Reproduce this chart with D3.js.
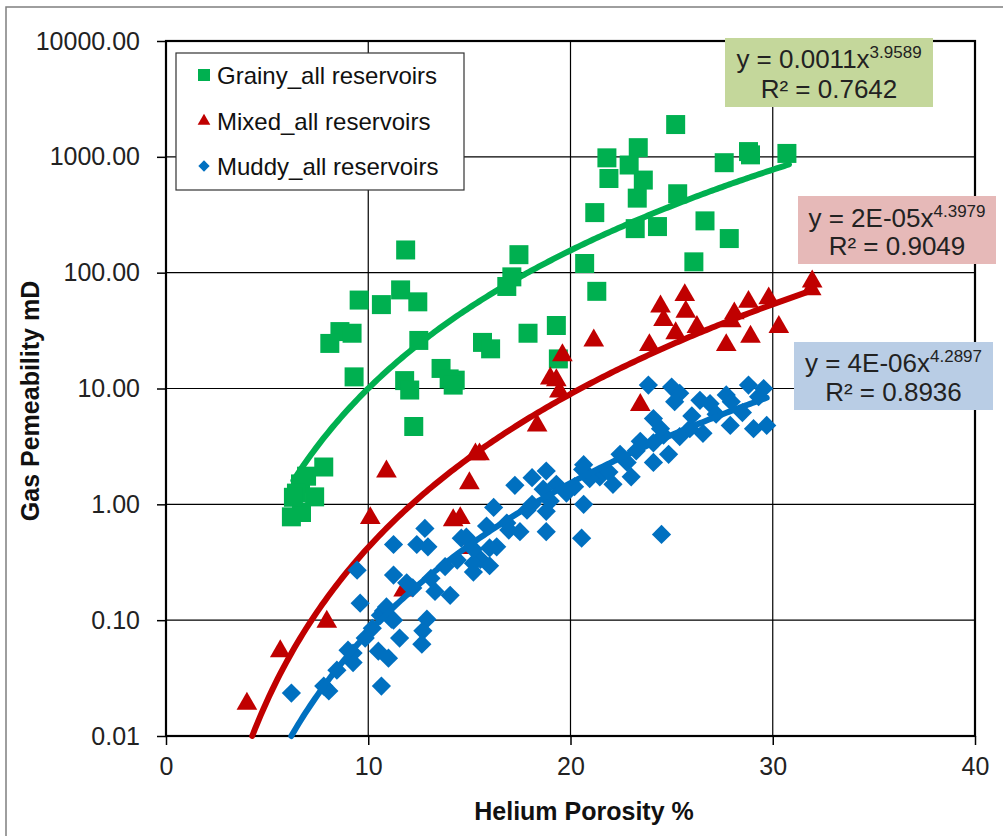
<!DOCTYPE html>
<html><head><meta charset="utf-8">
<script src="https://cdn.jsdelivr.net/npm/d3@7"></script>
<style>
html,body{margin:0;padding:0;background:#fff;}
text{font-family:"Liberation Sans",Arial,sans-serif;}
</style></head>
<body><svg id="c" width="1003" height="836"></svg>
<script>
// ---- data ----
const seriesNames = ["Grainy_all reservoirs", "Mixed_all reservoirs", "Muddy_all reservoirs"];
const seriesColors = ["#00b050", "#c00000", "#0070c0"];

const grainyX = [25.2,21.8,23.35,22.9,21.9,23.6,23.3,25.3,27.6,28.8,28.9,30.7,21.2,23.2,24.3,26.65,27.85,26.1,17.45,17.1,16.85,20.7,21.3,15.65,16.05,17.9,19.3,19.4,14.3,11.85,9.55,10.65,11.6,12.45,12.5,8.6,9.2,8.1,9.3,11.8,12.05,13.6,14.0,14.2,12.25,7.8,6.65,6.95,7.35,6.2,6.7,6.45,6.3];
const grainyY = [1900,980,1200,850,650,630,440,480,890,1110,1040,1070,330,240,250,280,197,124,143,92,76,120,69,25,22,30,35,18,11.8,157,58,53,71,56,26,31,30,24.5,12.6,11.7,9.7,14.9,12.1,10.7,4.7,2.1,1.5,1.75,1.16,0.78,0.85,1.25,1.15];

const mixedX = [31.95,31.9,29.8,30.3,28.8,28.9,28.1,27.7,27.95,25.65,25.7,24.45,24.6,26.25,25.2,23.9,21.15,19.6,19.0,19.3,19.45,23.45,18.35,15.5,15.3,15.0,10.9,10.1,14.2,14.55,11.75,15.0,7.95,5.65,4.0];
const mixedY = [84,72,60,34,56,28,44.5,23.7,38,64,46,51,39,34,30,23.7,26,19.4,12.2,11.8,9.4,7.2,4.8,2.7,2.7,1.52,1.92,0.76,0.73,0.76,0.18,0.42,0.097,0.054,0.019];

const muddyX = [17.25,16.2,12.8,11.25,12.4,12.95,14.6,9.45,11.25,11.9,13.3,14.05,9.6,10.75,11.15,12.9,9.85,11.55,12.7,12.65,10.5,11.0,9.25,10.65,8.05,6.2,15.55,15.2,16.0,15.85,16.95,16.35,10.6,10.9,11.25,9.25,8.45,7.8,15.2,23.85,25.0,25.4,25.15,26.4,26.9,27.7,27.95,28.8,29.55,29.7,29.05,27.9,26.55,25.9,25.4,24.45,24.1,24.6,24.1,23.45,24.85,24.1,23.25,23.0,22.45,22.1,21.45,20.65,20.6,20.95,20.2,20.65,19.3,18.8,18.1,18.65,18.1,19.0,18.8,17.85,16.85,17.5,18.8,20.55,24.5,14.85,16.0,15.2,29.3,28.5,27.2,26.0,22.8,21.9,19.8,13.8,14.4,12.2,13.1,10.2,9.0];
const muddyY = [1.46,0.94,0.62,0.45,0.45,0.43,0.51,0.27,0.245,0.21,0.177,0.164,0.14,0.12,0.102,0.102,0.07,0.07,0.081,0.062,0.054,0.047,0.043,0.027,0.0245,0.0235,0.335,0.26,0.295,0.65,0.6,0.43,0.11,0.13,0.1,0.052,0.037,0.027,0.31,10.7,10.3,9.1,7.7,7.9,7.4,8.8,7.7,10.7,10.0,4.8,4.5,4.8,4.1,4.5,3.85,4.5,5.5,3.95,3.4,3.5,2.7,2.3,2.9,1.73,2.7,1.49,1.73,2.2,2.0,1.67,1.42,1.0,1.49,1.94,1.7,1.35,1.0,1.07,0.87,0.89,0.69,0.58,0.58,0.51,0.55,0.52,0.42,0.41,8.5,6.2,6.0,5.8,2.3,1.9,1.25,0.29,0.33,0.19,0.23,0.085,0.055];

// power trendlines y = a * x^b
const trendA = [0.0011, 1.7e-5, 4e-6];
const trendB = [3.9589, 4.3979, 4.2897];
const trendXmin = [6.3, 0, 0];
const trendXmax = [30.8, 32.0, 29.7];
const eqLine1 = ["y = 0.0011x", "y = 2E-05x", "y = 4E-06x"];
const eqExp = ["3.9589", "4.3979", "4.2897"];
const eqLine2 = ["R² = 0.7642", "R² = 0.9049", "R² = 0.8936"];
const eqFills = ["#c4d79b", "#e6b9b8", "#b9cde5"];

const xTicks = [0, 10, 20, 30, 40];
const yTicks = [0.01, 0.1, 1, 10, 100, 1000, 10000];
const xTitle = "Helium Porosity %";
const yTitle = "Gas Pemeability mD";

// ---- layout ----
const L = 166, R = 975, T = 41, B = 736;
const svg = d3.select("#c");
svg.append("rect").attr("width", 1003).attr("height", 836).attr("fill", "#fff");
svg.append("rect").attr("x", 6).attr("y", 7).attr("width", 1100).attr("height", 900)
  .attr("fill", "none").attr("stroke", "#7f7f7f").attr("stroke-width", 1.5);

const x = d3.scaleLinear().domain([0, 40]).range([L, R]);
const y = d3.scaleLog().domain([0.01, 10000]).range([B, T]);

// gridlines
const g = svg.append("g");
g.selectAll(".vg").data(xTicks.slice(1, -1)).join("line")
  .attr("x1", d => x(d)).attr("x2", d => x(d)).attr("y1", T).attr("y2", B)
  .attr("stroke", "#000").attr("stroke-width", 1.2);
g.selectAll(".hg").data(yTicks.slice(1, -1)).join("line")
  .attr("x1", L).attr("x2", R).attr("y1", d => y(d)).attr("y2", d => y(d))
  .attr("stroke", "#000").attr("stroke-width", 1.2);

// axes
const xAxis = d3.axisBottom(x).tickValues(xTicks).tickSize(9).tickPadding(12).tickFormat(d3.format("d"));
const yAxis = d3.axisLeft(y).tickValues(yTicks).tickSize(9).tickPadding(17).tickFormat(d3.format(".2f"));
const gx = svg.append("g").attr("transform", `translate(0,${B})`).call(xAxis);
const gy = svg.append("g").attr("transform", `translate(${L},0)`).call(yAxis);
[gx, gy].forEach(a => {
  a.select(".domain").remove();
  a.selectAll(".tick line").attr("stroke", "#000").attr("stroke-width", 1.5);
  a.selectAll(".tick text").attr("font-size", 25).attr("fill", "#222")
    .attr("font-family", '"Liberation Sans",Arial,sans-serif');
});
gx.selectAll(".tick text").attr("dy", "0.71em");
// plot border
svg.append("rect").attr("x", L).attr("y", T).attr("width", R - L).attr("height", B - T)
  .attr("fill", "none").attr("stroke", "#000").attr("stroke-width", 2.2);

// axis titles
svg.append("text").attr("x", 584).attr("y", 820).attr("text-anchor", "middle")
  .attr("font-size", 25).attr("font-weight", "bold").attr("fill", "#111").text(xTitle);
svg.append("text").attr("transform", "translate(39,401) rotate(-90)").attr("text-anchor", "middle")
  .attr("font-size", 25).attr("font-weight", "bold").attr("fill", "#111").text(yTitle);

// marker shapes
function markerPath(i, big) {
  if (i === 0) return d3.symbol(d3.symbolSquare, big ? 361 : 144)();
  if (i === 1) return d3.symbol(d3.symbolTriangle, big ? 185 : 70)();
  return d3.symbol(d3.symbolSquare, big ? 185 : 64)();
}
const rot = i => i === 2 ? " rotate(45)" : "";

const allX = [grainyX, mixedX, muddyX];
const allY = [grainyY, mixedY, muddyY];
const line = d3.line().x(d => x(d[0])).y(d => y(d[1])).curve(d3.curveLinear);

const plot = svg.append("g");
for (let i = 0; i < 3; i++) {
  const pts = allX[i].map((v, k) => [v, allY[i][k]]);
  const a = trendA[i], b = trendB[i];
  let x0 = Math.max(trendXmin[i], Math.pow(0.01 / a, 1 / b));
  const x1 = trendXmax[i];
  const tl = d3.range(0, 201).map(k => { const xv = x0 + (x1 - x0) * k / 200; return [xv, a * Math.pow(xv, b)]; });
  const drawLine = () => plot.append("path").attr("d", line(tl)).attr("fill", "none")
    .attr("stroke", seriesColors[i]).attr("stroke-width", 6).attr("stroke-linecap", "round");
  if (i < 2) drawLine();
  plot.append("g").selectAll("path").data(pts).join("path")
    .attr("d", markerPath(i, true))
    .attr("transform", d => `translate(${x(d[0])},${y(d[1])})${rot(i)}`)
    .attr("fill", seriesColors[i]);
  if (i === 2) drawLine();
}

// legend
const lg = svg.append("g");
lg.append("rect").attr("x", 176).attr("y", 53).attr("width", 288).attr("height", 137)
  .attr("fill", "#fff").attr("stroke", "#333").attr("stroke-width", 1.2);
const legY = [75, 121, 166];
seriesNames.forEach((n, i) => {
  lg.append("path").attr("d", markerPath(i, false))
    .attr("transform", `translate(204,${legY[i]})${rot(i)}`).attr("fill", seriesColors[i]);
  lg.append("text").attr("x", 217).attr("y", legY[i] + 9).attr("font-size", 24)
    .attr("fill", "#111").text(n);
});

// equation boxes
const boxes = [
  {x: 725, y: 38, w: 208, h: 69, b1: 68, b2: 98},
  {x: 798, y: 196, w: 198, h: 68, b1: 227, b2: 255},
  {x: 794, y: 342, w: 199, h: 68, b1: 372, b2: 401}
];
boxes.forEach((bx, i) => {
  const eg = svg.append("g");
  eg.append("rect").attr("x", bx.x).attr("y", bx.y).attr("width", bx.w).attr("height", bx.h)
    .attr("fill", eqFills[i]);
  const cx = bx.x + bx.w / 2;
  const t1 = eg.append("text").attr("x", cx).attr("y", bx.b1).attr("text-anchor", "middle")
    .attr("font-size", 26).attr("fill", "#222");
  t1.append("tspan").text(eqLine1[i]);
  t1.append("tspan").attr("font-size", 17).attr("dy", -10).text(eqExp[i]);
  eg.append("text").attr("x", cx).attr("y", bx.b2).attr("text-anchor", "middle")
    .attr("font-size", 26).attr("fill", "#222").text(eqLine2[i]);
});
</script></body></html>
